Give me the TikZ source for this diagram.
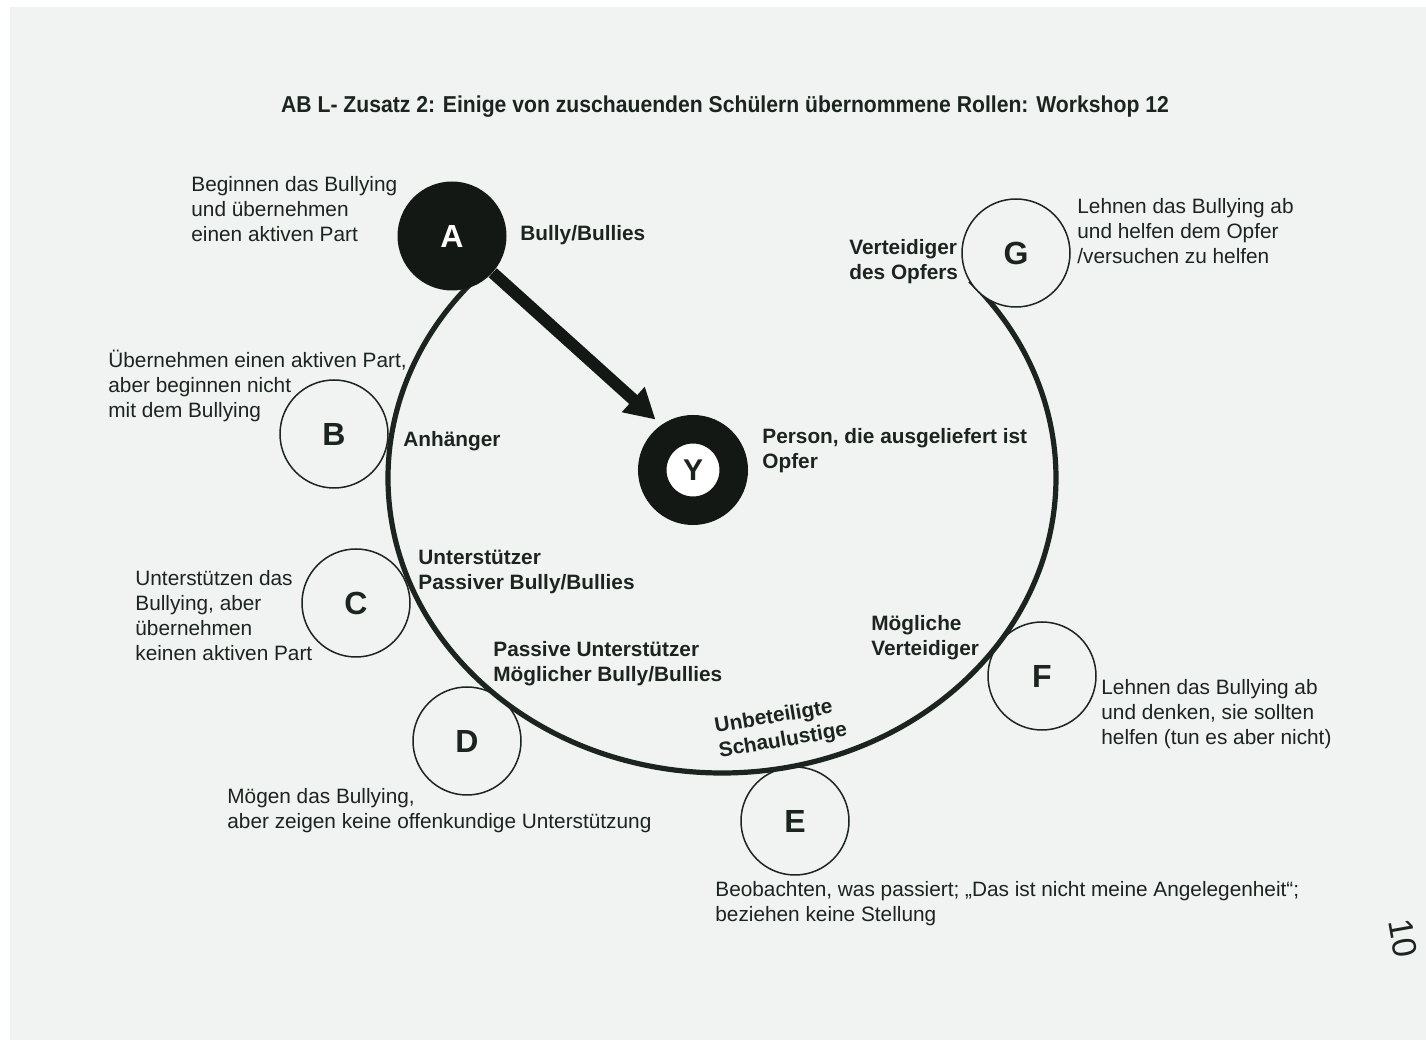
\documentclass[tikz,border=0pt]{standalone}
\usepackage{fontspec}
\setmainfont{Liberation Sans}
\newfontfamily\titlefont[FakeStretch=0.92]{Liberation Sans}
\usepackage{xcolor}
\usepackage{tikz}
\usetikzlibrary{arrows.meta}
\definecolor{paper}{HTML}{F0F3F2}
\definecolor{ink}{HTML}{1C2420}
\definecolor{solid}{HTML}{141815}
\tikzset{
  ring/.style={draw=ink, line width=2.6pt},
  role/.style={circle, draw=ink, line width=0.75pt, fill=paper, minimum size=54pt, inner sep=0pt, text=ink, font=\fontsize{16}{16}\selectfont\bfseries},
  bully/.style={circle, fill=solid, minimum size=54.5pt, inner sep=0pt, text=white, font=\fontsize{16}{16}\selectfont\bfseries},
  victim/.style={circle, draw=solid, line width=14.25pt, fill=white, minimum size=40.75pt, inner sep=0pt, text=ink, font=\fontsize{15}{15}\selectfont\bfseries},
  push/.style={draw=solid, line width=6pt, shorten >=4pt, -{Triangle[length=15pt,width=16pt]}},
  desc/.style={anchor=north west, align=left, inner sep=0pt, text=ink, font=\fontsize{10.4}{12.5}\selectfont},
  tag/.style={desc, font=\fontsize{10.4}{12.5}\selectfont\bfseries},
}
\begin{document}
\begin{tikzpicture}[x=0.5pt, y=-0.5pt]
  \fill[white] (0,0) rectangle (1426,1042);
  \fill[paper] (10,7) rectangle (1426,1040);
  \useasboundingbox (0,0) rectangle (1426,1042);

  \node[text=ink, font=\titlefont\fontsize{11.5}{13}\selectfont\bfseries] (title) at (725,107)
    {AB L- Zusatz 2: Einige von zuschauenden Schülern übernommene Rollen: Workshop 12};

  \node[role] (B) at (334,434) {B};
  \node[role] (C) at (356,603) {C};
  \node[role] (D) at (467,741) {D};
  \node[role] (E) at (795,821) {E};
  \node[role] (F) at (1042,676) {F};

  \coordinate (hub) at (722,478);
  \draw[ring] (hub) ++(-133:334 and 295) arc[start angle=-133, end angle=-402, x radius=334, y radius=295];

  \node[role] (G) at (1016,253) {G};
  \node[bully] (A) at (452,236) {A};
  \node[victim] (Y) at (693,470) {Y};
  \draw[push] (A) -- (Y.125);

  \node[desc] (dA) at (191,176) {Beginnen das Bullying\\und übernehmen\\einen aktiven Part};
  \node[desc] (dB) at (108,350) {Übernehmen einen aktiven Part,\\aber beginnen nicht\\mit dem Bullying};
  \node[desc] (dC) at (135,570) {Unterstützen das\\Bullying, aber\\übernehmen\\keinen aktiven Part};
  \node[desc] (dD) at (227,788) {Mögen das Bullying,\\aber zeigen keine offenkundige Unterstützung};
  \node[desc] (dE) at (715,881) {Beobachten, was passiert; „Das ist nicht meine Angelegenheit“;\\beziehen keine Stellung};
  \node[desc] (dF) at (1101,679) {Lehnen das Bullying ab\\und denken, sie sollten\\helfen (tun es aber nicht)};
  \node[desc] (dG) at (1077,198) {Lehnen das Bullying ab\\und helfen dem Opfer\\/versuchen zu helfen};

  \node[tag] (tA) at (520,225) {Bully/Bullies};
  \node[tag] (tG) at (849,239) {Verteidiger\\des Opfers};
  \node[tag] (tB) at (403,431) {Anhänger};
  \node[tag] (tY) at (762,428) {Person, die ausgeliefert ist\\Opfer};
  \node[tag] (tC) at (418,550) {Unterstützer\\Passiver Bully/Bullies};
  \node[tag] (tD) at (493,641) {Passive Unterstützer\\Möglicher Bully/Bullies};
  \node[tag] (tF) at (871,615) {Mögliche\\Verteidiger};
  \node[tag, anchor=center, rotate=9.5] (tE) at (781,729) {Unbeteiligte\\Schaulustige};

  \node[text=ink, font=\fontsize{17}{17}\selectfont, rotate=-80] (page) at (1403,938) {10};
\end{tikzpicture}
\end{document}
